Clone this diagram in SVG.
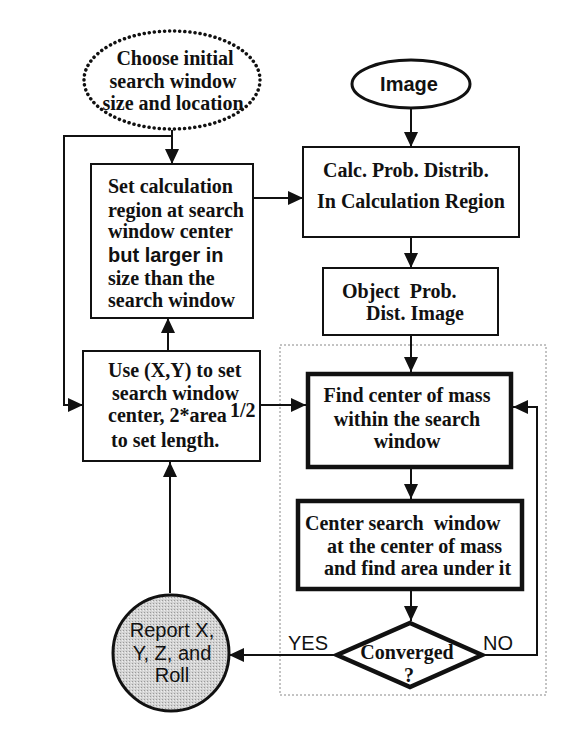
<svg xmlns="http://www.w3.org/2000/svg" width="587" height="736" viewBox="0 0 587 736">
<style>
.t{font-family:"Liberation Serif","Times New Roman",serif;font-weight:bold;font-size:20px;fill:#111}
.a{font-family:"Liberation Sans",Arial,sans-serif;font-size:20px;fill:#111}
.ab{font-family:"Liberation Sans",Arial,sans-serif;font-weight:bold;font-size:20px;fill:#111}
.box{fill:#fff;stroke:#111;stroke-width:2}
.thick{fill:#fff;stroke:#111;stroke-width:4.5}
.ln{fill:none;stroke:#111;stroke-width:2}
</style>
<defs>
<marker id="ah" markerUnits="userSpaceOnUse" markerWidth="16" markerHeight="14" refX="15" refY="7" orient="auto">
<path d="M0,0 L15,7 L0,14 Z" fill="#111"/>
</marker>
<pattern id="dots" width="3" height="3" patternUnits="userSpaceOnUse">
<rect width="3" height="3" fill="#d4d4d4"/>
<rect x="0" y="0" width="1" height="1" fill="#9a9a9a"/>
<rect x="2" y="1" width="1" height="1" fill="#eeeeee"/>
</pattern>
</defs>
<rect x="280" y="345" width="266" height="350" fill="none" stroke="#888" stroke-width="1" stroke-dasharray="2 2"/>
<g id="connectors">
<line class="ln" x1="172" y1="130" x2="172" y2="164" marker-end="url(#ah)"/>
<polyline class="ln" points="172,136 64,136 64,405 83,405" marker-end="url(#ah)"/>
<line class="ln" x1="253" y1="198" x2="303" y2="198" marker-end="url(#ah)"/>
<line class="ln" x1="411" y1="108" x2="411" y2="147" marker-end="url(#ah)"/>
<line class="ln" x1="411" y1="237" x2="411" y2="268" marker-end="url(#ah)"/>
<line class="ln" x1="411" y1="335" x2="411" y2="372" marker-end="url(#ah)"/>
<line class="ln" x1="168" y1="351" x2="168" y2="318" marker-end="url(#ah)"/>
<line class="ln" x1="260" y1="405" x2="306" y2="405" marker-end="url(#ah)"/>
<line class="ln" x1="411" y1="469" x2="411" y2="499" marker-end="url(#ah)"/>
<line class="ln" x1="411" y1="591" x2="411" y2="621" marker-end="url(#ah)"/>
<polyline class="ln" points="482,655 537,655 537,407 513,407" stroke-width="2.5" marker-end="url(#ah)"/>
<line class="ln" x1="337" y1="655" x2="229" y2="655" marker-end="url(#ah)"/>
<line class="ln" x1="170" y1="593" x2="170" y2="462" marker-end="url(#ah)"/>
<text class="a" x="288" y="650" font-size="21">YES</text>
<text class="a" x="483" y="650" font-size="21">NO</text>
</g>
<g id="choose">
<ellipse cx="172" cy="80" rx="88" ry="49" fill="#fff" stroke="#111" stroke-width="3.5" stroke-linecap="round" stroke-dasharray="0.1 5"/>
<text class="t" text-anchor="middle" x="175" y="65">Choose initial</text>
<text class="t" text-anchor="middle" x="173" y="88">search window</text>
<text class="t" text-anchor="middle" x="173" y="110">size and location</text>
</g>
<g id="image">
<ellipse cx="411" cy="84" rx="59" ry="24" fill="#fff" stroke="#111" stroke-width="3"/>
<text class="ab" text-anchor="middle" x="409" y="91" font-size="19">Image</text>
</g>
<g id="setcalc">
<rect class="box" x="91" y="164" width="162" height="154"/>
<text class="t" x="108" y="193">Set calculation</text>
<text class="t" x="108" y="217">region at search</text>
<text class="t" x="108" y="238">window center</text>
<text class="ab" x="108" y="262">but larger in</text>
<text class="t" x="108" y="285">size than the</text>
<text class="t" x="108" y="307">search window</text>
</g>
<g id="calcprob">
<rect class="box" x="303" y="147" width="216" height="90"/>
<text class="t" x="323" y="177">Calc. Prob. Distrib.</text>
<text class="t" x="317" y="208">In Calculation Region</text>
</g>
<g id="objprob">
<rect class="box" x="323" y="268" width="175" height="67"/>
<text class="t" x="342" y="298" xml:space="preserve">Object  Prob.</text>
<text class="t" x="366" y="320">Dist. Image</text>
</g>
<g id="use">
<rect class="box" x="83" y="351" width="177" height="110"/>
<text class="t" x="108" y="377">Use (X,Y) to set</text>
<text class="t" x="112" y="400">search window</text>
<text class="t" x="108" y="422">center, 2*area</text>
<text class="t" x="230" y="417" font-size="13">1/2</text>
<text class="t" x="111" y="447">to set length.</text>
</g>
<g id="findcenter">
<rect class="thick" x="308" y="374" width="203" height="93"/>
<text class="t" text-anchor="middle" x="407" y="402">Find center of mass</text>
<text class="t" text-anchor="middle" x="407" y="426">within the search</text>
<text class="t" text-anchor="middle" x="407" y="448">window</text>
</g>
<g id="centersearch">
<rect class="thick" x="298" y="501" width="224" height="88"/>
<text class="t" x="305" y="530" xml:space="preserve">Center search  window</text>
<text class="t" x="327" y="553">at the center of mass</text>
<text class="t" x="324" y="575">and find area under it</text>
</g>
<g id="converged">
<polygon class="thick" points="410,623 482,655 410,687 337,655"/>
<text class="t" text-anchor="middle" x="407" y="659">Converged</text>
<text class="t" text-anchor="middle" x="409" y="682" font-size="18">?</text>
</g>
<g id="report">
<circle cx="171" cy="653" r="58" fill="url(#dots)" stroke="#111" stroke-width="3"/>
<text class="a" text-anchor="middle" x="172" y="637" font-size="19">Report X,</text>
<text class="a" text-anchor="middle" x="172" y="660" font-size="19">Y, Z, and</text>
<text class="a" text-anchor="middle" x="172" y="682" font-size="19">Roll</text>
</g>
</svg>
